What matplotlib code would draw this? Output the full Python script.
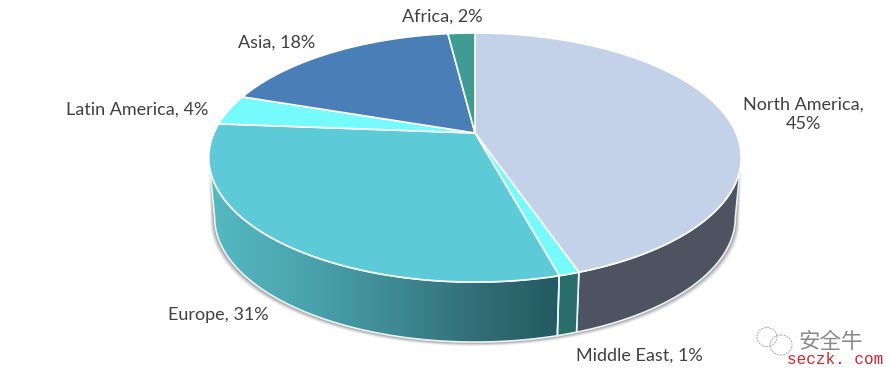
import numpy as np
import matplotlib
matplotlib.use("Agg")
import matplotlib.pyplot as plt
from matplotlib.colors import LinearSegmentedColormap
from matplotlib.patches import Ellipse, Polygon

# data (labels are rounded, the slices read a little off the round numbers)
regions = ["North America", "Middle East", "Europe", "Latin America", "Asia", "Africa"]
shares = [45.2, 1.05, 30.75, 4, 18, 2]
labels = ["North America,\n45%", "Middle East, 1%", "Europe, 31%",
          "Latin America, 4%", "Asia, 18%", "Africa, 2%"]

# styles
top_colors = ["#C3D2E9", "#75FBFD", "#5DCAD8", "#75FBFD", "#4A7EB6", "#409B92"]
wall_colors = ["#4E5361", "#2A6E6C", None, "#2A6E6C", "#2A6E6C", "#2A6E6C"]
label_pos = [(803, 114), (639.5, 356), (218, 315), (137.5, 110), (277, 43), (442, 17)]

# apex of the pie and the perspective of the disc
cx, cy = 475, 133
a, b, k = 261, 119.7, 0.197
depth = 60
base_shrink = 0.978

# the wall shows only between the two widest points of the rim
front_start = np.arccos(-k)
front_end = 2 * np.pi - front_start


def rim(ang, shrink=1.0):
    # clockwise angle from the top, projected with perspective
    px = np.sin(ang)
    py = np.cos(ang)
    w = 1 + k * py
    return cx + shrink * a * px / w, cy - b * py / w


def wall_outline(t0, t1, shrink=base_shrink, dx=0, dy=0):
    t = np.linspace(t0, t1, 120)
    x0, y0 = rim(t)
    x1, y1 = rim(t[::-1], shrink)
    return np.column_stack([np.r_[x0, x1 + dx], np.r_[y0, y1 + depth + dy]])


fig = plt.figure(figsize=(8.92, 3.79), dpi=100)
ax = fig.add_axes([0, 0, 1, 1])
plt.rcParams["font.family"] = ["Lato", "DejaVu Sans"]

edges = np.cumsum([0] + shares) / sum(shares) * 2 * np.pi

# soft shadow under the wall
for off, al in [(4, 0.10), (3, 0.16), (2, 0.22), (1, 0.30)]:
    xy = wall_outline(front_start, front_end, base_shrink + off * 0.004, 0, off)
    ax.add_patch(Polygon(xy, closed=True, fc="#5A5560", ec="none", alpha=al, zorder=1))

# walls
for i in range(len(shares)):
    t0 = max(edges[i], front_start)
    t1 = min(edges[i + 1], front_end)
    if t0 >= t1:
        continue
    xy = wall_outline(t0, t1)
    if wall_colors[i] is None:
        cmap = LinearSegmentedColormap.from_list(
            "wall", ["#55BAC3", "#4BA6AF", "#3F8D96", "#336F78", "#245A61"])
        patch = Polygon(xy, closed=True, fc="none", ec="#EAF6F7", lw=1.2, zorder=3)
        ax.add_patch(patch)
        im = ax.imshow(np.linspace(0, 1, 256).reshape(1, -1), cmap=cmap, aspect="auto",
                       extent=[xy[:, 0].min(), xy[:, 0].max(), 379, 0], zorder=2)
        im.set_clip_path(Polygon(xy, closed=True, transform=ax.transData))
    else:
        ax.add_patch(Polygon(xy, closed=True, fc=wall_colors[i], ec="#EAF6F7", lw=1.2, zorder=2.5))

# top faces
for i in range(len(shares)):
    t = np.linspace(edges[i], edges[i + 1], 120)
    x0, y0 = rim(t)
    ax.fill(np.r_[cx, x0], np.r_[cy, y0], fc=top_colors[i], ec="white", lw=1.2,
            joinstyle="round", zorder=4)

for txt, (lx, ly) in zip(labels, label_pos):
    ax.text(lx, ly, txt, ha="center", va="center", fontsize=13, color="#404040",
            linespacing=1.25, zorder=5)

# watermark
for (ex, ey, ew, eh) in [(767, 337, 20, 19), (781, 345, 22, 20)]:
    ax.add_patch(Ellipse((ex, ey), ew, eh, fc="none", ec="#A8A8A8", lw=0.7, ls=(0, (2, 1)), zorder=5))
ax.text(831, 342, "安全牛", ha="center", va="center", fontsize=15.5, color="#8A8A8A",
        family=["Noto Sans CJK SC", "DejaVu Sans"], fontweight="light", zorder=5)
ax.text(835, 359, "seczk. com", ha="center", va="center", fontsize=11.5, color="#D8222A",
        family=["Liberation Mono", "DejaVu Sans"], zorder=5)

ax.set_xlim(0, 892)
ax.set_ylim(379, 0)
ax.axis("off")
fig.savefig("out.png", dpi=100, facecolor="white")
